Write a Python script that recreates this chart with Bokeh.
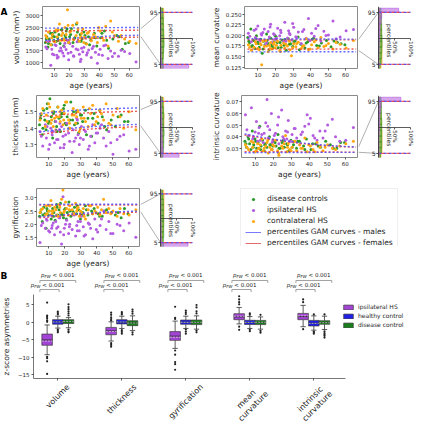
import math
from bokeh.plotting import figure
from bokeh.layouts import row, column
from bokeh.models import Range1d, LinearAxis, FixedTicker, Legend, LegendItem
from bokeh.core.properties import value
from bokeh.embed import file_html
from bokeh.resources import INLINE

# ---------------- Panel A data ----------------
age_patients = [4.5, 6.2, 7.8, 8.5, 9.9, 11.3, 12.1, 13.6, 14.4, 15.8,
                16.5, 17.2, 18.0, 18.9, 19.7, 21.2, 22.4, 23.1, 24.6, 25.3,
                26.8, 27.5, 28.3, 29.1, 30.4, 31.6, 33.0, 34.7, 36.2, 37.5,
                38.8, 40.6, 42.1, 44.3, 45.9, 47.6, 50.2, 52.8, 56.9, 64.5,
                5.3, 8.9, 10.6, 12.8, 14.9, 16.9, 19.3, 20.5, 22.9, 25.9,
                27.9, 29.8, 32.1, 35.4, 39.7, 43.0, 48.8, 54.6, 60.3, 11.8]
age_controls = [4.2, 5.1, 5.9, 6.8, 7.5, 8.3, 9.1, 9.8, 10.7, 11.5,
                12.4, 13.2, 14.0, 14.9, 15.6, 16.4, 17.3, 18.1, 19.2, 20.3,
                21.5, 22.6, 23.8, 24.9, 26.1, 27.4, 28.6, 29.8, 31.2, 32.9,
                34.5, 36.8, 38.4, 40.9, 43.5, 46.2, 49.1, 51.7, 55.3, 59.6,
                4.8, 6.3, 8.8, 10.2, 12.9, 15.2, 17.8, 19.7, 21.0, 23.2,
                25.5, 27.9, 30.5, 33.6, 37.5, 41.8, 45.0, 53.4, 57.4, 18.6]

vol_ipsi = [1650, 1900, 860, 1550, 1320, 1720, 1180, 1480, 1610, 1390,
            1260, 1820, 1540, 1950, 1100, 1430, 1690, 1250, 1570, 1880,
            1340, 1020, 1600, 1450, 2050, 1310, 1520, 1200, 1680, 1420,
            950, 1560, 1290, 1740, 1150, 1480, 1380, 1250, 1460, 1000,
            1580, 1350, 1750, 1220, 1490, 1660, 1380, 1810, 1270, 1530,
            1120, 1640, 1400, 1590, 1330, 1710, 1240, 1510, 1370, 1290]
vol_contra = [2150, 2300, 1750, 2050, 1900, 2400, 2100, 2650, 1950, 2250,
              2000, 2500, 2200, 3270, 1850, 2350, 2600, 1980, 2150, 2700,
              1900, 2050, 2250, 2450, 2080, 1780, 2300, 1920, 2200, 2100,
              1850, 2350, 2050, 2550, 1700, 2780, 2150, 1900, 2000, 1800,
              2050, 2200, 1880, 2400, 2150, 1950, 2600, 2300, 2000, 2450,
              2100, 1850, 2250, 2050, 2500, 1950, 2300, 2150, 1900, 2350]
vol_dc = [1850, 2100, 1650, 2000, 2250, 1750, 2150, 1950, 2300, 1900,
          2050, 2200, 1800, 2400, 2000, 1700, 2150, 2350, 1950, 2100,
          2450, 1850, 2050, 2650, 1900, 2200, 2000, 2300, 1800, 2100,
          1950, 2250, 1700, 2050, 2350, 1600, 2000, 2150, 1550, 1850,
          2000, 1800, 2250, 2100, 1950, 2400, 2050, 1850, 2200, 2000,
          2300, 1900, 2150, 1750, 2050, 2250, 1950, 2100, 1800, 2450]

meanc_ipsi = [0.205, 0.185, 0.212, 0.195, 0.222, 0.188, 0.201, 0.215, 0.178, 0.209,
              0.196, 0.226, 0.183, 0.204, 0.191, 0.217, 0.199, 0.207, 0.186, 0.231,
              0.194, 0.211, 0.202, 0.189, 0.219, 0.197, 0.208, 0.181, 0.214, 0.193,
              0.240, 0.205, 0.198, 0.223, 0.187, 0.210, 0.201, 0.234, 0.196, 0.214,
              0.198, 0.215, 0.190, 0.207, 0.183, 0.220, 0.202, 0.193, 0.212, 0.186,
              0.205, 0.228, 0.195, 0.209, 0.188, 0.216, 0.200, 0.192, 0.211, 0.204]
meanc_contra = [0.178, 0.165, 0.172, 0.185, 0.169, 0.181, 0.131, 0.174, 0.188, 0.162,
                0.176, 0.183, 0.168, 0.179, 0.171, 0.186, 0.164, 0.177, 0.182, 0.170,
                0.175, 0.190, 0.166, 0.152, 0.180, 0.173, 0.184, 0.169, 0.176, 0.192,
                0.167, 0.178, 0.185, 0.171, 0.195, 0.174, 0.181, 0.168, 0.179, 0.188,
                0.172, 0.180, 0.166, 0.187, 0.175, 0.169, 0.183, 0.177, 0.162, 0.179,
                0.186, 0.171, 0.181, 0.174, 0.168, 0.189, 0.176, 0.183, 0.170, 0.178]
meanc_dc = [0.195, 0.182, 0.215, 0.176, 0.188, 0.169, 0.199, 0.184, 0.172, 0.191,
            0.158, 0.186, 0.178, 0.203, 0.181, 0.167, 0.193, 0.175, 0.185, 0.197,
            0.171, 0.183, 0.189, 0.177, 0.165, 0.192, 0.180, 0.174, 0.187, 0.196,
            0.179, 0.170, 0.185, 0.191, 0.176, 0.182, 0.188, 0.173, 0.184, 0.178,
            0.186, 0.174, 0.193, 0.181, 0.168, 0.188, 0.177, 0.200, 0.183, 0.172,
            0.190, 0.179, 0.185, 0.166, 0.182, 0.194, 0.175, 0.187, 0.180, 0.171]

thick_ipsi = [1.38, 1.29, 1.42, 1.34, 1.27, 1.40, 1.36, 1.31, 1.44, 1.33,
              1.39, 1.28, 1.41, 1.35, 1.30, 1.43, 1.37, 1.32, 1.25, 1.39,
              1.34, 1.46, 1.36, 1.30, 1.41, 1.33, 1.38, 1.27, 1.35, 1.42,
              1.31, 1.37, 1.40, 1.34, 1.29, 1.38, 1.24, 1.33, 1.36, 1.27,
              1.35, 1.41, 1.30, 1.38, 1.33, 1.43, 1.28, 1.36, 1.40, 1.32,
              1.45, 1.34, 1.39, 1.29, 1.37, 1.42, 1.31, 1.35, 1.26, 1.38]
thick_contra = [1.45, 1.52, 1.41, 1.48, 1.55, 1.43, 1.50, 1.46, 1.39, 1.53,
                1.47, 1.44, 1.51, 1.42, 1.49, 1.56, 1.45, 1.40, 1.48, 1.52,
                1.43, 1.47, 1.50, 1.38, 1.46, 1.53, 1.44, 1.41, 1.49, 1.54,
                1.42, 1.47, 1.51, 1.45, 1.55, 1.43, 1.48, 1.52, 1.40, 1.39,
                1.49, 1.44, 1.53, 1.41, 1.47, 1.50, 1.45, 1.56, 1.43, 1.48,
                1.51, 1.40, 1.46, 1.52, 1.44, 1.49, 1.42, 1.47, 1.50, 1.45]
thick_dc = [1.42, 1.48, 1.36, 1.51, 1.45, 1.39, 1.55, 1.43, 1.58, 1.47,
            1.34, 1.50, 1.44, 1.41, 1.53, 1.46, 1.38, 1.49, 1.52, 1.43,
            1.47, 1.40, 1.56, 1.45, 1.42, 1.50, 1.37, 1.48, 1.44, 1.51,
            1.46, 1.35, 1.49, 1.43, 1.47, 1.39, 1.45, 1.41, 1.48, 1.44,
            1.46, 1.40, 1.52, 1.44, 1.49, 1.38, 1.47, 1.54, 1.42, 1.45,
            1.50, 1.43, 1.48, 1.36, 1.46, 1.51, 1.41, 1.47, 1.44, 1.49]

intr_ipsi = [0.059, 0.041, 0.065, 0.038, 0.044, 0.036, 0.048, 0.042, 0.035, 0.052,
             0.072, 0.039, 0.046, 0.060, 0.037, 0.043, 0.050, 0.034, 0.063, 0.040,
             0.045, 0.038, 0.054, 0.036, 0.042, 0.047, 0.039, 0.033, 0.044, 0.049,
             0.059, 0.056, 0.041, 0.037, 0.045, 0.039, 0.050, 0.055, 0.036, 0.048,
             0.046, 0.040, 0.053, 0.037, 0.043, 0.049, 0.035, 0.041, 0.057, 0.038,
             0.044, 0.036, 0.047, 0.042, 0.051, 0.039, 0.045, 0.040, 0.037, 0.043]
intr_contra = [0.033, 0.029, 0.036, 0.031, 0.027, 0.034, 0.030, 0.038, 0.028, 0.032,
               0.035, 0.026, 0.031, 0.029, 0.033, 0.037, 0.028, 0.024, 0.032, 0.030,
               0.041, 0.027, 0.034, 0.029, 0.031, 0.036, 0.028, 0.033, 0.030, 0.039,
               0.027, 0.032, 0.029, 0.035, 0.031, 0.028, 0.033, 0.030, 0.032, 0.036,
               0.031, 0.035, 0.028, 0.033, 0.030, 0.037, 0.029, 0.032, 0.026, 0.034,
               0.031, 0.028, 0.036, 0.030, 0.033, 0.027, 0.031, 0.029, 0.034, 0.030]
intr_dc = [0.036, 0.031, 0.040, 0.034, 0.029, 0.045, 0.033, 0.038, 0.030, 0.035,
           0.049, 0.032, 0.037, 0.028, 0.034, 0.031, 0.039, 0.033, 0.029, 0.036,
           0.032, 0.042, 0.030, 0.035, 0.031, 0.034, 0.028, 0.037, 0.033, 0.030,
           0.036, 0.032, 0.038, 0.029, 0.034, 0.031, 0.036, 0.033, 0.030, 0.035,
           0.034, 0.038, 0.031, 0.036, 0.029, 0.033, 0.040, 0.032, 0.035, 0.030,
           0.037, 0.033, 0.031, 0.036, 0.029, 0.034, 0.032, 0.030, 0.035, 0.033]

gyr_ipsi = [1.30, 2.05, 1.85, 2.20, 1.75, 2.35, 1.95, 1.60, 2.10, 1.90,
            2.25, 1.70, 1.25, 3.05, 1.85, 2.15, 1.65, 2.00, 1.80, 2.40,
            1.55, 1.95, 2.10, 1.75, 2.30, 1.90, 1.60, 2.05, 1.85, 1.45,
            2.20, 1.70, 1.95, 2.50, 1.80, 2.10, 1.65, 2.00, 1.75, 1.50,
            1.95, 2.15, 1.70, 2.05, 1.85, 2.25, 1.60, 2.00, 1.90, 2.35,
            1.75, 2.10, 1.55, 2.00, 1.80, 2.20, 1.65, 1.95, 2.05, 1.85]
gyr_contra = [2.45, 2.60, 2.35, 2.70, 2.50, 2.90, 2.40, 2.65, 2.55, 2.30,
              2.75, 2.45, 2.95, 3.30, 2.50, 2.60, 2.35, 2.70, 2.55, 2.40,
              2.80, 2.50, 2.65, 2.30, 2.45, 2.60, 2.20, 2.55, 2.70, 2.40,
              2.50, 2.65, 2.35, 2.95, 2.45, 2.60, 2.50, 2.30, 2.40, 2.55,
              2.55, 2.40, 2.70, 2.50, 2.35, 2.65, 2.45, 2.85, 2.55, 2.40,
              2.60, 2.50, 2.30, 2.70, 2.45, 2.55, 2.40, 2.60, 2.35, 2.50]
gyr_dc = [2.30, 2.55, 2.10, 2.65, 2.40, 1.85, 2.50, 2.35, 2.70, 2.20,
          2.60, 2.45, 2.15, 2.75, 2.35, 2.55, 2.80, 2.40, 2.25, 2.60,
          2.45, 2.85, 2.30, 2.50, 2.65, 2.40, 2.55, 2.20, 2.45, 2.70,
          2.35, 2.50, 2.60, 2.40, 2.30, 2.55, 2.45, 2.35, 2.25, 2.40,
          2.45, 2.35, 2.60, 2.50, 2.30, 2.65, 2.40, 2.55, 2.20, 2.50,
          2.45, 2.70, 2.35, 2.55, 2.40, 2.30, 2.50, 2.45, 2.60, 2.35]

# GAM percentile curves (5th / 95th), males & females
gam_ages = [4, 15, 25, 35, 45, 55, 66]
vol_m95 = [2470, 2478, 2484, 2488, 2492, 2496, 2500]
vol_m5 = [1930, 2000, 2050, 2090, 2120, 2145, 2165]
vol_f95 = [2345, 2352, 2358, 2364, 2370, 2376, 2382]
vol_f5 = [1860, 1930, 1985, 2025, 2050, 2068, 2080]
meanc_m95 = [0.1920, 0.1918, 0.1916, 0.1915, 0.1914, 0.1913, 0.1912]
meanc_m5 = [0.1612, 0.1612, 0.1613, 0.1613, 0.1614, 0.1614, 0.1615]
meanc_f95 = [0.1897, 0.1896, 0.1895, 0.1895, 0.1894, 0.1894, 0.1893]
meanc_f5 = [0.1675, 0.1676, 0.1676, 0.1677, 0.1677, 0.1678, 0.1678]
thick_m95 = [1.488, 1.500, 1.508, 1.514, 1.518, 1.521, 1.524]
thick_m5 = [1.375, 1.390, 1.400, 1.408, 1.414, 1.419, 1.423]
thick_f95 = [1.468, 1.480, 1.488, 1.494, 1.498, 1.501, 1.503]
thick_f5 = [1.360, 1.375, 1.386, 1.394, 1.400, 1.405, 1.409]
intr_m95 = [0.0425, 0.0392, 0.0368, 0.0348, 0.0332, 0.0320, 0.0312]
intr_m5 = [0.0262, 0.0263, 0.0264, 0.0264, 0.0265, 0.0265, 0.0265]
intr_f95 = [0.0415, 0.0385, 0.0362, 0.0343, 0.0328, 0.0317, 0.0309]
intr_f5 = [0.0272, 0.0271, 0.0270, 0.0269, 0.0268, 0.0268, 0.0267]
gyr_m95 = [2.755, 2.757, 2.758, 2.759, 2.760, 2.761, 2.762]
gyr_m5 = [2.28, 2.34, 2.39, 2.43, 2.46, 2.48, 2.50]
gyr_f95 = [2.725, 2.727, 2.729, 2.730, 2.731, 2.732, 2.733]
gyr_f5 = [2.24, 2.30, 2.35, 2.39, 2.42, 2.44, 2.46]

# percentile histograms (% of group): [<5, 5-15, ..., 85-95, >95]
hist_centers = [1.5, 10, 20, 30, 40, 50, 60, 70, 80, 90, 98.5]
hist_heights = [7, 10, 10, 10, 10, 10, 10, 10, 10, 10, 7]
vol_h_dc = [9, 8, 9, 10, 11, 10, 10, 9, 9, 8, 7]
vol_h_ipsi = [88, 3, 2, 2, 1, 1, 1, 1, 0, 1, 0]
vol_h_contra = [6, 7, 8, 9, 10, 11, 10, 10, 9, 10, 10]
thick_h_dc = [8, 9, 10, 10, 11, 10, 9, 10, 9, 8, 6]
thick_h_ipsi = [58, 8, 6, 5, 5, 4, 4, 3, 3, 2, 2]
thick_h_contra = [4, 7, 8, 9, 10, 10, 11, 11, 10, 10, 10]
gyr_h_dc = [10, 9, 10, 10, 10, 10, 9, 9, 9, 8, 6]
gyr_h_ipsi = [86, 3, 2, 2, 2, 1, 1, 1, 1, 0, 1]
gyr_h_contra = [3, 6, 8, 9, 10, 10, 11, 11, 11, 11, 10]
meanc_h_dc = [5, 8, 9, 10, 11, 11, 10, 10, 9, 9, 8]
meanc_h_ipsi = [1, 1, 1, 2, 2, 3, 4, 5, 8, 10, 63]
meanc_h_contra = [8, 11, 11, 11, 11, 10, 10, 9, 8, 8, 3]
intr_h_dc = [6, 9, 10, 10, 10, 10, 10, 9, 9, 9, 8]
intr_h_ipsi = [1, 1, 1, 1, 2, 3, 3, 4, 6, 8, 70]
intr_h_contra = [8, 11, 11, 11, 11, 10, 10, 9, 8, 8, 3]

pct_levels = [5, 95]
pct_span = [0, 100]

age_ticks = [10, 20, 30, 40, 50, 60]
vol_ticks = [1000, 1500, 2000, 2500, 3000]
vol_tick_labels = ["1000", "1500", "2000", "2500", "3000"]
meanc_ticks = [0.125, 0.15, 0.175, 0.2, 0.225, 0.25]
meanc_tick_labels = ["0.125", "0.150", "0.175", "0.200", "0.225", "0.250"]
thick_ticks = [1.3, 1.4, 1.5]
thick_tick_labels = ["1.3", "1.4", "1.5"]
intr_ticks = [0.03, 0.04, 0.05, 0.06, 0.07]
intr_tick_labels = ["0.03", "0.04", "0.05", "0.06", "0.07"]
gyr_ticks = [1.5, 2.0, 2.5, 3.0]
gyr_tick_labels = ["1.5", "2.0", "2.5", "3.0"]

# ---------------- Panel B data ----------------
cats = [0, 1, 2, 3, 4]
cat_names = ["volume", "thickness", "gyrification", "mean\ncurvature", "intrinsic\ncurvature"]
ipsi_q1 = [-6.5, -3.5, -5.1, 0.8, 0.8]
ipsi_q3 = [-3.3, -1.4, -2.6, 2.5, 2.6]
ipsi_med = [-5.0, -2.4, -3.9, 1.6, 1.7]
ipsi_mean = [-5.3, -2.6, -4.2, 1.8, 1.9]
ipsi_wlo = [-9.2, -5.3, -7.4, -0.4, -1.2]
ipsi_whi = [-0.7, 0.2, 0.4, 4.3, 4.9]
ipsi_out = [[5.7, 2.0, 1.6, 1.2, 0.6, 0.2, -9.8, -10.2, -11.1, -14.7],
            [2.8, 2.2, 1.5, 1.0, 0.6, -5.9, -6.4, -6.9],
            [4.5, 1.3, 1.0, -8.0, -9.2, -11.3, -11.9, -13.5],
            [5.2, 5.8, 6.6, 7.5, -1.2, -2.1],
            [5.8, 6.6, -1.9]]
hc_q1 = [-0.47, -0.4, -0.5, -0.55, -1.0]
hc_q3 = [0.82, 0.8, 0.7, 0.63, 0.6]
hc_med = [0.2, 0.1, 0.1, 0.0, -0.2]
hc_mean = [0.15, 0.15, 0.05, 0.05, -0.25]
hc_wlo = [-1.6, -1.7, -1.7, -1.7, -2.2]
hc_whi = [1.8, 1.8, 1.8, 1.7, 1.9]
hc_out = [[2.3, 2.7, 3.1, -2.0, -2.4, -2.8],
          [2.3, 2.7, 3.0, -2.2, -2.7, -3.2],
          [2.4, 2.9, 3.4, -2.0, -2.6, -3.2],
          [2.2, 2.6, -2.1, -2.5],
          [2.3, -2.6, -2.8, -3.2]]
dc_q1 = [-0.3, -0.9, -0.6, -0.6, -0.5]
dc_q3 = [0.8, 0.5, 0.7, 0.6, 0.5]
dc_med = [0.25, -0.1, 0.0, 0.0, 0.0]
dc_mean = [0.3, -0.15, 0.05, 0.05, -0.05]
dc_wlo = [-1.5, -2.3, -1.9, -1.9, -2.0]
dc_whi = [1.4, 1.9, 1.9, 1.6, 1.8]
dc_out = [[2.0, 2.6, 3.2, 3.8, 4.4, 5.2, -2.0, -2.5, -2.8],
          [2.5, 3.1, 3.7, -2.8, -3.4],
          [2.6, 3.2, 4.3, 5.0, -2.3, -2.8],
          [2.2, -2.4, -2.9],
          [2.3, -2.5, -3.0, -3.4, -3.8, -4.3]]
pval_text = "< 0.001"
b_yticks = [-15, -10, -5, 0, 5]
b_ytick_labels = ["\u221215", "\u221210", "\u22125", "0", "5"]

# ---------------- styling ----------------
FONT = "DejaVu Sans"
TXT = "#1e1e1e"
GREEN = "#2b9a2b"
PURPLE = "#b35ce0"
ORANGE = "#ffa812"
BLUE = "#4f4fff"
RED = "#ea3a3a"
BOX_IPSI = "#a444d6"
BOX_HC = "#1f1fe8"
BOX_DC = "#17801a"

age_range = (2.3, 66.8)
inset_x_start = -62.5
inset_y_range = (-2, 105)
BB = 22  # bottom border of panel A figures

# DejaVu Sans advance widths (em) used to centre the rotated category labels
CHAR_W = {"a": .613, "c": .550, "e": .615, "f": .352, "g": .635, "h": .634, "i": .278,
          "k": .579, "l": .278, "m": .974, "n": .634, "o": .612, "r": .411, "s": .521,
          "t": .392, "u": .634, "v": .592, "y": .592}


def style_axis(ax, tick_size="5.5px", label_size="7.5px"):
    ax.major_label_text_font = FONT
    ax.major_label_text_font_size = tick_size
    ax.major_label_text_color = TXT
    ax.axis_label_text_font = FONT
    ax.axis_label_text_font_size = label_size
    ax.axis_label_text_font_style = "normal"
    ax.axis_label_text_color = TXT
    ax.major_tick_in = 0
    ax.major_tick_out = 2
    ax.minor_tick_line_color = None
    ax.major_tick_line_color = "#333333"
    ax.major_tick_line_width = 0.8


def blank_fig(width, height, **kw):
    p = figure(width=width, height=height, x_range=Range1d(0, 1), y_range=Range1d(0, 1),
               x_axis_type=None, y_axis_type=None, output_backend="svg", toolbar_location=None,
               **kw)
    p.outline_line_color = None
    return p


def scatter_panel(width, height, bl, bt, yr, yticks, ylabels, ylab,
                  dc, ipsi, contra, m95, m5, f95, f5):
    p = figure(width=width, height=height, x_range=Range1d(*age_range), y_range=Range1d(*yr),
               output_backend="svg", toolbar_location=None,
               min_border_left=bl, min_border_right=1, min_border_top=bt, min_border_bottom=BB)
    p.grid.visible = False
    p.outline_line_color = "#8a8a8a"
    p.outline_line_width = 1
    p.xaxis.ticker = FixedTicker(ticks=age_ticks)
    p.xaxis.axis_label = "age (years)"
    p.yaxis.ticker = FixedTicker(ticks=yticks)
    p.yaxis.major_label_overrides = dict(zip(yticks, ylabels))
    p.yaxis.axis_label = ylab
    for ax in p.xaxis + p.yaxis:
        style_axis(ax)
        ax.axis_line_color = None
    p.xaxis.major_label_standoff = 1
    p.xaxis.axis_label_standoff = 1
    p.yaxis.major_label_standoff = 1
    p.yaxis.axis_label_standoff = 2
    p.scatter(age_controls, dc, size=3, color=GREEN, line_width=0)
    p.scatter(age_patients, ipsi, size=3, color=PURPLE, line_width=0)
    p.scatter(age_patients, contra, size=3, color=ORANGE, line_width=0)
    for ys, col in ((f95, RED), (f5, RED), (m95, BLUE), (m5, BLUE)):
        p.line(gam_ages, ys, line_color=col, line_width=1.4, line_dash="2 2", line_alpha=0.85)
    return p


def inset_panel(width, height, bt, xr_end, yr, m95, m5, f95, f5, h_dc, h_ipsi, h_contra):
    p = figure(width=width, height=height, x_range=Range1d(inset_x_start, xr_end),
               y_range=Range1d(*inset_y_range), x_axis_type=None, y_axis_type=None,
               output_backend="svg", toolbar_location=None,
               min_border_left=0, min_border_right=0, min_border_top=bt, min_border_bottom=BB)
    p.outline_line_color = None
    y0, y1 = inset_y_range

    def to_pct(v):
        return y0 + (v - yr[0]) / (yr[1] - yr[0]) * (y1 - y0)

    hi = to_pct((m95[-1] + f95[-1]) / 2)
    lo = to_pct((m5[-1] + f5[-1]) / 2)
    p.segment(x0=[inset_x_start, inset_x_start], y0=[hi, lo], x1=[0, 0], y1=[pct_levels[1], pct_levels[0]],
              line_color="#9a9a9a", line_width=0.8)
    for vals, col in ((h_contra, ORANGE), (h_dc, GREEN), (h_ipsi, PURPLE)):
        p.hbar(y=hist_centers, height=hist_heights, left=0, right=vals,
               fill_color=col, fill_alpha=0.55, line_color=col, line_width=0.6)
    p.multi_line(xs=[pct_span for _ in pct_levels], ys=[[l, l] for l in pct_levels],
                 line_color=BLUE, line_width=1.3, line_dash="3 2")
    p.multi_line(xs=[pct_span for _ in pct_levels], ys=[[l, l] for l in pct_levels],
                 line_color=RED, line_width=1.3, line_dash="3 2", line_dash_offset=2, line_alpha=0.8)
    yax = LinearAxis(fixed_location=0, ticker=FixedTicker(ticks=pct_levels),
                     major_label_overrides={l: str(l) for l in pct_levels})
    style_axis(yax, tick_size="6px")
    yax.axis_line_color = "#333333"
    yax.axis_line_width = 0.8
    yax.major_label_standoff = 1
    p.add_layout(yax, "left")
    xax = LinearAxis(fixed_location=50, ticker=FixedTicker(ticks=[50, 100]), bounds=(0, 100),
                     major_label_overrides={50: "50%", 100: "100%"},
                     major_label_orientation=-math.pi / 2)
    style_axis(xax, tick_size="5.5px")
    xax.axis_line_color = "#333333"
    xax.axis_line_width = 0.8
    xax.major_label_standoff = 1
    p.add_layout(xax, "below")
    p.text(x=[34], y=[46], text=["percentiles"], angle=-math.pi / 2, text_align="center",
           text_baseline="middle", text_font=value(FONT), text_font_size="6px", text_color=TXT)
    return p


# ---------------- Panel A ----------------
lab_a = blank_fig(8, 92, min_border=0)
lab_a.text(x=[0], y=[1], text=["A"], text_align="left", text_baseline="top",
           text_font=value(FONT), text_font_size="9px", text_font_style="bold", text_color="black")

s_vol = scatter_panel(132, 92, 28, 6, (720, 3410), vol_ticks, vol_tick_labels, "volume (mm\u00b3)",
                      vol_dc, vol_ipsi, vol_contra, vol_m95, vol_m5, vol_f95, vol_f5)
i_vol = inset_panel(68, 92, 6, 150, (720, 3410), vol_m95, vol_m5, vol_f95, vol_f5,
                    vol_h_dc, vol_h_ipsi, vol_h_contra)
s_mc = scatter_panel(150, 92, 33, 6, (0.122, 0.268), meanc_ticks, meanc_tick_labels, "mean curvature",
                     meanc_dc, meanc_ipsi, meanc_contra, meanc_m95, meanc_m5, meanc_f95, meanc_f5)
i_mc = inset_panel(56, 92, 6, 112.5, (0.122, 0.268), meanc_m95, meanc_m5, meanc_f95, meanc_f5,
                   meanc_h_dc, meanc_h_ipsi, meanc_h_contra)

s_th = scatter_panel(140, 89, 36, 3, (1.22, 1.60), thick_ticks, thick_tick_labels, "thickness (mm)",
                     thick_dc, thick_ipsi, thick_contra, thick_m95, thick_m5, thick_f95, thick_f5)
i_th = inset_panel(68, 89, 3, 150, (1.22, 1.60), thick_m95, thick_m5, thick_f95, thick_f5,
                   thick_h_dc, thick_h_ipsi, thick_h_contra)
s_ic = scatter_panel(150, 89, 33, 3, (0.0221, 0.0755), intr_ticks, intr_tick_labels, "intrinsic curvature",
                     intr_dc, intr_ipsi, intr_contra, intr_m95, intr_m5, intr_f95, intr_f5)
i_ic = inset_panel(56, 89, 3, 112.5, (0.0221, 0.0755), intr_m95, intr_m5, intr_f95, intr_f5,
                   intr_h_dc, intr_h_ipsi, intr_h_contra)

s_gy = scatter_panel(140, 89, 36, 3, (1.15, 3.36), gyr_ticks, gyr_tick_labels, "gyrification",
                     gyr_dc, gyr_ipsi, gyr_contra, gyr_m95, gyr_m5, gyr_f95, gyr_f5)
i_gy = inset_panel(68, 89, 3, 150, (1.15, 3.36), gyr_m95, gyr_m5, gyr_f95, gyr_f5,
                   gyr_h_dc, gyr_h_ipsi, gyr_h_contra)

# legend figure for panel A (legend glyph renderers sit outside the visible range)
lf = blank_fig(206, 89, min_border_left=32, min_border_top=7, min_border_right=0, min_border_bottom=0)
r_dc = lf.scatter(x=[-1], y=[-1], size=3.5, color=GREEN, line_width=0)
r_ip = lf.scatter(x=[-1], y=[-1], size=3.5, color=PURPLE, line_width=0)
r_co = lf.scatter(x=[-1], y=[-1], size=3.5, color=ORANGE, line_width=0)
r_m = lf.line(x=[-1, -2], y=[-1, -2], line_color="#7a7aff", line_width=1)
r_f = lf.line(x=[-1, -2], y=[-1, -2], line_color="#e06a6a", line_width=1)
leg_a = Legend(items=[LegendItem(label="disease controls", renderers=[r_dc]),
                      LegendItem(label="ipsilateral HS", renderers=[r_ip]),
                      LegendItem(label="contralateral HS", renderers=[r_co]),
                      LegendItem(label="percentiles GAM curves - males", renderers=[r_m]),
                      LegendItem(label="percentiles GAM curves - females", renderers=[r_f])],
               location="top_left", label_text_font=FONT, label_text_font_size="7.5px",
               label_text_color=TXT, label_text_line_height=1.0,
               glyph_width=16, glyph_height=8, label_height=11,
               label_standoff=6, spacing=0, padding=4, margin=0,
               border_line_color="#dddddd", border_line_width=0.8,
               background_fill_color="white", background_fill_alpha=0.8)
lf.add_layout(leg_a)

# ---------------- Panel B ----------------
PX_X, PX_Y = 64.0, 3.5          # pixels per category / per z unit
B_W, B_H = 414, 154
x_axis_start, x_axis_end = -0.38, 4.49
y_axis_lo, y_axis_hi = -16, 8
bx0 = x_axis_start - 33 / PX_X
by1 = 14.857
pb = figure(width=B_W, height=B_H, x_range=Range1d(bx0, bx0 + B_W / PX_X),
            y_range=Range1d(by1 - B_H / PX_Y, by1), x_axis_type=None, y_axis_type=None,
            output_backend="svg", toolbar_location=None, min_border=0)
pb.outline_line_color = None

yax_b = LinearAxis(fixed_location=x_axis_start, bounds=(y_axis_lo, y_axis_hi),
                   ticker=FixedTicker(ticks=b_yticks),
                   major_label_overrides=dict(zip(b_yticks, b_ytick_labels)),
                   axis_label="z-score asymmetries")
xax_b = LinearAxis(fixed_location=y_axis_lo, bounds=(x_axis_start, x_axis_end),
                   ticker=FixedTicker(ticks=cats),
                   major_label_overrides=dict(zip(cats, [""] * len(cats))))
for ax in (yax_b, xax_b):
    style_axis(ax)
    ax.axis_line_color = "#777777"
    ax.axis_line_width = 1
yax_b.major_label_standoff = 2
yax_b.axis_label_standoff = 4
pb.add_layout(yax_b, "left")
pb.add_layout(xax_b, "below")

# rotated category labels, centred under their ticks
lab_offsets = []
for name in cat_names:
    lines = name.split("\n")
    L = max(sum(CHAR_W.get(ch, 0.6) for ch in ln) for ln in lines) * 8
    hgt = len(lines) * 8 * 1.15
    lab_offsets.append(4 + (L + hgt) * 0.7071 / 2)
pb.text(x=cats, y=[y_axis_lo] * len(cats), text=cat_names, y_offset=lab_offsets,
        angle=math.pi / 4, text_align="center", text_baseline="middle",
        text_font=value(FONT), text_font_size="8px", text_color=TXT, text_line_height=1.1)

box_w = 0.165
group_offsets = [-0.167, 0.0, 0.167]
groups = [("ipsilateral HS", BOX_IPSI, ipsi_q1, ipsi_q3, ipsi_med, ipsi_mean, ipsi_wlo, ipsi_whi, ipsi_out),
          ("healthy control", BOX_HC, hc_q1, hc_q3, hc_med, hc_mean, hc_wlo, hc_whi, hc_out),
          ("disease control", BOX_DC, dc_q1, dc_q3, dc_med, dc_mean, dc_wlo, dc_whi, dc_out)]
legend_items_b = []
for (name, col, q1, q3, med, mean, wlo, whi, outs), off in zip(groups, group_offsets):
    xs = [c + off for c in cats]
    pb.segment(x0=xs, y0=q3, x1=xs, y1=whi, line_color="#333333", line_width=0.8)
    pb.segment(x0=xs, y0=q1, x1=xs, y1=wlo, line_color="#333333", line_width=0.8)
    cl = [x - box_w / 4 for x in xs]
    cr = [x + box_w / 4 for x in xs]
    pb.segment(x0=cl, y0=whi, x1=cr, y1=whi, line_color="#333333", line_width=0.8)
    pb.segment(x0=cl, y0=wlo, x1=cr, y1=wlo, line_color="#333333", line_width=0.8)
    r = pb.vbar(x=xs, width=box_w, bottom=q1, top=q3, fill_color=col, line_color="#3a3a3a", line_width=0.7)
    bl = [x - box_w / 2 for x in xs]
    br = [x + box_w / 2 for x in xs]
    pb.segment(x0=bl, y0=med, x1=br, y1=med, line_color="#2a2a2a", line_width=0.9)
    pb.segment(x0=bl, y0=mean, x1=br, y1=mean, line_color="#e8e8e8", line_width=0.7, line_dash="2 1")
    ox = [x for x, o in zip(xs, outs) for _ in o]
    oy = [v for o in outs for v in o]
    pb.scatter(ox, oy, size=2.2, color="#222222", line_width=0)
    legend_items_b.append(LegendItem(label=name, renderers=[r]))

# significance brackets and labels
up_y, up_tick = 12.0, 11.3
lo_y, lo_tick = 9.43, 8.7
br_xs, br_ys = [], []
for c in cats:
    br_xs.append([c - 0.28, c - 0.28, c + 0.28, c + 0.28])
    br_ys.append([up_tick, up_y, up_y, up_tick])
    br_xs.append([c - 0.28, c - 0.28, c + 0.02, c + 0.02])
    br_ys.append([lo_tick, lo_y, lo_y, lo_tick])
pb.multi_line(xs=br_xs, ys=br_ys, line_color="#8a8a8a", line_width=0.8)
for cx_off, ty in ((0.0, 13.43), (-0.16, 10.75)):
    tx = [c + cx_off for c in cats]
    pb.text(x=tx, y=[ty] * len(cats), text=["p"] * len(cats), x_offset=-16.8,
            text_font=value(FONT), text_font_size="5.5px", text_font_style="italic",
            text_baseline="middle", text_align="left", text_color=TXT)
    pb.text(x=tx, y=[ty] * len(cats), text=["FW"] * len(cats), x_offset=-13.3, y_offset=1.5,
            text_font=value(FONT), text_font_size="4px", text_font_style="italic",
            text_baseline="middle", text_align="left", text_color=TXT)
    pb.text(x=tx, y=[ty] * len(cats), text=[pval_text] * len(cats), x_offset=-5.3,
            text_font=value(FONT), text_font_size="5.5px",
            text_baseline="middle", text_align="left", text_color=TXT)

pb.text(x=[bx0], y=[by1], text=["B"], text_align="left", text_baseline="top",
        text_font=value(FONT), text_font_size="9px", text_font_style="bold", text_color="black")

leg_b = Legend(items=legend_items_b, location=(342, 95), label_text_font=FONT,
               label_text_font_size="6px", label_text_color=TXT, glyph_width=12, glyph_height=6,
               label_height=9, label_standoff=4, spacing=0, padding=2, margin=0,
               border_line_color=None, background_fill_alpha=0)
pb.add_layout(leg_b)

layout = column(row(lab_a, s_vol, i_vol, s_mc, i_mc),
                row(s_th, i_th, s_ic, i_ic),
                row(s_gy, i_gy, lf),
                pb)

open("out.html", "w").write(file_html(layout, INLINE))
